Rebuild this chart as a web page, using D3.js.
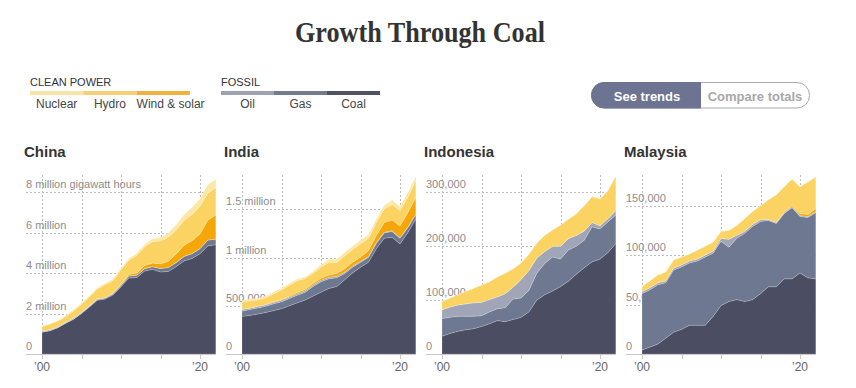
<!DOCTYPE html>
<html>
<head>
<meta charset="utf-8">
<script src="https://cdn.jsdelivr.net/npm/d3@7"></script>
<style>
  body { margin: 0; background: #fff; }
  svg { display: block; font-family: "Liberation Sans", Arial, sans-serif; }
</style>
</head>
<body>
<script>
// values in thousand gigawatt hours (TWh)
const years = [2000, 2001, 2002, 2003, 2004, 2005, 2006, 2007, 2008, 2009, 2010, 2011,
  2012, 2013, 2014, 2015, 2016, 2017, 2018, 2019, 2020, 2021, 2022];

const countries = ['China', 'India', 'Indonesia', 'Malaysia'];
// stack order, bottom to top
const sources = ['coal', 'gas', 'oil', 'wind', 'hydro', 'nuclear'];

const chinaCoal = [1080, 1150, 1300, 1520, 1720, 2000, 2320, 2650, 2720, 2920, 3320, 3750, 3780, 4100, 4180, 4050, 4080, 4320, 4600, 4720, 4950, 5340, 5400];
const chinaGas = [5, 5, 5, 8, 10, 12, 20, 40, 40, 50, 69, 98, 110, 116, 130, 170, 190, 200, 220, 236, 250, 287, 270];
const chinaOil = [47, 45, 40, 40, 50, 45, 40, 30, 20, 15, 13, 8, 6, 6, 5, 5, 5, 5, 5, 5, 5, 5, 5];
const chinaWind = [1, 1, 1, 2, 2, 2, 4, 6, 13, 28, 45, 74, 105, 150, 180, 225, 306, 417, 545, 630, 727, 982, 1190];
const chinaHydro = [222, 277, 288, 284, 354, 398, 436, 486, 637, 616, 722, 699, 872, 920, 1060, 1130, 1190, 1190, 1230, 1300, 1360, 1340, 1350];
const chinaNuclear = [17, 17, 25, 43, 50, 53, 55, 62, 68, 70, 74, 86, 97, 112, 133, 171, 213, 248, 295, 348, 366, 408, 418];

const indiaCoal = [390, 400, 415, 430, 450, 470, 500, 530, 560, 600, 640, 680, 700, 770, 840, 900, 950, 1090, 1200, 1210, 1140, 1260, 1400];
const indiaGas = [55, 60, 62, 65, 70, 72, 75, 80, 80, 100, 110, 100, 90, 65, 60, 50, 50, 55, 55, 60, 60, 50, 45];
const indiaOil = [15, 15, 15, 15, 15, 15, 15, 15, 15, 15, 15, 15, 15, 12, 12, 10, 10, 8, 8, 8, 6, 6, 6];
const indiaWind = [2, 2, 3, 4, 6, 7, 10, 14, 16, 18, 20, 24, 30, 36, 40, 43, 60, 74, 100, 110, 120, 150, 170];
const indiaHydro = [75, 74, 64, 68, 84, 100, 113, 120, 114, 104, 114, 130, 114, 134, 131, 138, 128, 135, 139, 162, 160, 160, 175];
const indiaNuclear = [17, 19, 19, 18, 17, 17, 19, 17, 15, 17, 26, 32, 33, 34, 34, 37, 38, 38, 38, 45, 43, 47, 46];

const indonesiaCoal = [33, 38, 42, 45, 47, 51, 56, 62, 60, 64, 68, 78, 100, 110, 117, 125, 135, 148, 160, 171, 176, 188, 205];
const indonesiaGas = [33, 30, 28, 25, 23, 20, 22, 22, 26, 38, 36, 40, 50, 58, 63, 51, 58, 52, 51, 65, 56, 57, 53];
const indonesiaOil = [16, 19, 21, 23, 25, 25, 23, 22, 26, 22, 34, 37, 28, 22, 20, 24, 21, 20, 17, 8, 6, 6, 8];
const indonesiaWind = [0, 0, 0, 0, 0, 0, 0, 0, 0, 0, 0, 0, 0, 0, 0, 0, 0, 0, 0, 0, 0, 0, 1];
const indonesiaHydro = [15, 17, 19, 23, 27, 32, 33, 37, 38, 34, 31, 30, 28, 30, 30, 39, 36, 40, 47, 48, 50, 52, 63];
const indonesiaNuclear = [0, 0, 0, 0, 0, 0, 0, 0, 0, 0, 0, 0, 0, 0, 0, 0, 0, 0, 0, 0, 0, 0, 0];

const malaysiaCoal = [4, 7, 10, 16, 22, 25, 29, 29, 29, 38, 49, 53, 55, 53, 55, 61, 68, 68, 76, 76, 82, 77, 76];
const malaysiaGas = [57, 58, 60, 56, 63, 63, 63, 65, 69, 64, 65, 55, 62, 69, 74, 73, 67, 64, 66, 72, 57, 61, 67];
const malaysiaOil = [2, 2, 2, 2, 2, 2, 2, 2, 2, 2, 3, 8, 3, 2, 2, 2, 1, 1, 1, 1, 1, 1, 1];
const malaysiaWind = [0, 0, 0, 0, 0, 0, 0, 0, 0, 0, 0, 0, 0, 0, 0, 0, 0, 0, 1, 1, 2, 2, 3];
const malaysiaHydro = [5, 7, 8, 9, 8, 8, 7, 9, 9, 9, 7, 9, 10, 13, 13, 14, 20, 28, 25, 27, 27, 33, 32];
const malaysiaNuclear = [0, 0, 0, 0, 0, 0, 0, 0, 0, 0, 0, 0, 0, 0, 0, 0, 0, 0, 0, 0, 0, 0, 0];

// y-axis ticks per country
const chinaTicks = [0, 2000, 4000, 6000, 8000];
const chinaTickLabels = ['0', '2 million', '4 million', '6 million', '8 million gigawatt hours'];
const indiaTicks = [0, 500, 1000, 1500];
const indiaTickLabels = ['0', '500,000', '1 million', '1.5 million'];
const indonesiaTicks = [0, 100, 200, 300];
const indonesiaTickLabels = ['0', '100,000', '200,000', '300,000'];
const malaysiaTicks = [0, 50, 100, 150];
const malaysiaTickLabels = ['0', '50,000', '100,000', '150,000'];
const yMax = [8840, 1855, 332, 181];

const xTicks = [2000, 2005, 2010, 2015, 2020];
const xTickLabels = {2000: '\u201900', 2020: '\u201920'};

const cleanLabels = ['Nuclear', 'Hydro', 'Wind & solar'];
const fossilLabels = ['Oil', 'Gas', 'Coal'];

const color = {
  coal: '#4b4e63',
  gas: '#6e7891',
  oil: '#a0a6b8',
  wind: '#f5a70a',
  hydro: '#fbd362',
  nuclear: '#fce7a4'
};
const legendColor = {
  'Nuclear': '#f8e4a4', 'Hydro': '#f5d077', 'Wind & solar': '#f0b23e',
  'Oil': '#9da2b2', 'Gas': '#737b91', 'Coal': '#4f5264'
};

const seriesFor = {
  China: [chinaCoal, chinaGas, chinaOil, chinaWind, chinaHydro, chinaNuclear],
  India: [indiaCoal, indiaGas, indiaOil, indiaWind, indiaHydro, indiaNuclear],
  Indonesia: [indonesiaCoal, indonesiaGas, indonesiaOil, indonesiaWind, indonesiaHydro, indonesiaNuclear],
  Malaysia: [malaysiaCoal, malaysiaGas, malaysiaOil, malaysiaWind, malaysiaHydro, malaysiaNuclear]
};
const ticksFor = {
  China: [chinaTicks, chinaTickLabels],
  India: [indiaTicks, indiaTickLabels],
  Indonesia: [indonesiaTicks, indonesiaTickLabels],
  Malaysia: [malaysiaTicks, malaysiaTickLabels]
};

const width = 856, height = 388;
const svg = d3.select('body')
  .append('svg')
  .attr('width', width)
  .attr('height', height);

// title
svg.append('text')
  .attr('x', 420)
  .attr('y', 42)
  .attr('text-anchor', 'middle')
  .attr('textLength', 250)
  .attr('lengthAdjust', 'spacingAndGlyphs')
  .style('font-family', '"Liberation Serif", "DejaVu Serif", serif')
  .style('font-weight', 'bold')
  .style('font-size', '30px')
  .style('fill', '#333')
  .text('Growth Through Coal');

// legend
const drawLegend = (x0, title, labels, segW, anchors) => {
  const g = svg.append('g').attr('transform', `translate(${x0},0)`);
  g.append('text')
    .attr('x', 0)
    .attr('y', 85.5)
    .style('font-size', '11px')
    .style('fill', '#333')
    .text(title);
  g.selectAll('rect')
    .data(labels)
    .enter()
    .append('rect')
    .attr('x', (d, i) => i * segW)
    .attr('y', 91)
    .attr('width', segW)
    .attr('height', 4)
    .attr('fill', d => legendColor[d]);
  g.selectAll('.lab')
    .data(labels)
    .enter()
    .append('text')
    .attr('class', 'lab')
    .attr('x', (d, i) => anchors[i] === 'start' ? i * segW : i * segW + segW / 2)
    .attr('y', 107.5)
    .attr('text-anchor', (d, i) => anchors[i])
    .style('font-size', '12px')
    .style('fill', '#444')
    .text(d => d);
};
drawLegend(30, 'CLEAN POWER', cleanLabels, 53.3, ['middle', 'middle', 'start']);
drawLegend(221, 'FOSSIL', fossilLabels, 53, ['middle', 'middle', 'middle']);

// toggle buttons
const btn = svg.append('g').attr('transform', 'translate(591.5,82.5)');
const bw = 218, bh = 25.5, r = 12.5, split = 109;
btn.append('rect')
  .attr('width', bw).attr('height', bh)
  .attr('rx', r).attr('ry', r)
  .attr('fill', '#fff')
  .attr('stroke', '#a9a9a9');
btn.append('path')
  .attr('d', `M${split},0 H${r} A${r},${bh / 2} 0 0 0 ${r},${bh} H${split} Z`)
  .attr('fill', '#6c7491')
  .attr('stroke', '#6c7491');
btn.append('text')
  .attr('x', split / 2 + 1).attr('y', 18)
  .attr('text-anchor', 'middle')
  .style('font-size', '13px').style('font-weight', 'bold')
  .style('fill', '#fff')
  .text('See trends');
btn.append('text')
  .attr('x', split + (bw - split) / 2).attr('y', 18)
  .attr('text-anchor', 'middle')
  .style('font-size', '13px').style('font-weight', 'bold')
  .style('fill', '#a8a8a8')
  .text('Compare totals');

// panels
const baseY = 354, plotTop = 175, plotW = 173.8;
const x = d3.scaleLinear().domain([2000, 2022]).range([0, plotW]);

countries.forEach((country, ci) => {
  const g = svg.append('g').attr('transform', `translate(${42 + ci * 200},0)`);
  const arrays = seriesFor[country];
  const rows = years.map((yr, i) => {
    const row = {year: yr};
    sources.forEach((s, si) => { row[s] = arrays[si][i]; });
    return row;
  });
  const stacked = d3.stack().keys(sources)(rows);

  const y = d3.scaleLinear().domain([0, yMax[ci]]).range([baseY, plotTop]);
  const [tickVals, tickLabs] = ticksFor[country];

  g.append('text')
    .attr('x', -18)
    .attr('y', 157)
    .style('font-size', '15px')
    .style('font-weight', 'bold')
    .style('fill', '#333')
    .text(country);

  // vertical grid
  g.selectAll('.vgrid')
    .data(xTicks)
    .enter()
    .append('line')
    .attr('x1', d => Math.round(x(d)) + 0.5)
    .attr('x2', d => Math.round(x(d)) + 0.5)
    .attr('y1', plotTop)
    .attr('y2', baseY)
    .attr('stroke', '#bdbdbd')
    .attr('stroke-dasharray', '2,2');

  // horizontal grid (not at zero)
  g.selectAll('.hgrid')
    .data(tickVals.filter(d => d > 0))
    .enter()
    .append('line')
    .attr('x1', -16)
    .attr('x2', plotW)
    .attr('y1', d => Math.round(y(d)) + 0.5)
    .attr('y2', d => Math.round(y(d)) + 0.5)
    .attr('stroke', '#bdbdbd')
    .attr('stroke-dasharray', '2,2');

  g.selectAll('.ylab')
    .data(tickVals)
    .enter()
    .append('text')
    .attr('x', -16)
    .attr('y', d => y(d) - 4)
    .style('font-size', '11px')
    .style('fill', '#8c8c8c')
    .text((d, i) => tickLabs[i]);

  const area = d3.area()
    .x(d => x(d.data.year))
    .y0(d => y(d[0]))
    .y1(d => y(d[1]));

  g.selectAll('.layer')
    .data(stacked)
    .enter()
    .append('path')
    .attr('d', area)
    .attr('fill', d => color[d.key])
    .attr('stroke', '#fff')
    .attr('stroke-opacity', 0.35)
    .attr('stroke-width', 0.5);

  // baseline and ticks
  g.append('line')
    .attr('x1', -16).attr('x2', plotW)
    .attr('y1', baseY + 0.5).attr('y2', baseY + 0.5)
    .attr('stroke', '#c8c8c8');
  g.selectAll('.xtick')
    .data(xTicks)
    .enter()
    .append('line')
    .attr('x1', d => Math.round(x(d)) + 0.5)
    .attr('x2', d => Math.round(x(d)) + 0.5)
    .attr('y1', baseY)
    .attr('y2', baseY + 5)
    .attr('stroke', '#c8c8c8');
  g.selectAll('.xlab')
    .data(xTicks.filter(d => xTickLabels[d]))
    .enter()
    .append('text')
    .attr('x', d => x(d))
    .attr('y', 371)
    .attr('text-anchor', 'middle')
    .style('font-size', '12px')
    .style('fill', '#666')
    .text(d => xTickLabels[d]);
});
</script>
</body>
</html>
